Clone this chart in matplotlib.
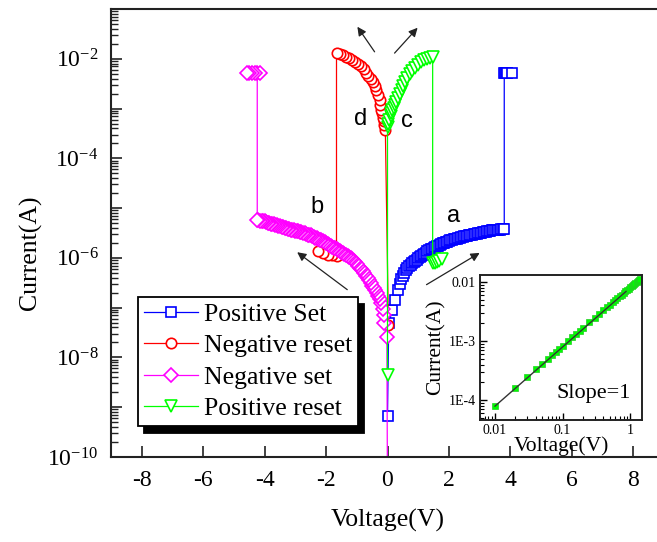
import numpy as np
import matplotlib
matplotlib.use("Agg")
import matplotlib.pyplot as plt
from matplotlib.ticker import LogLocator, FuncFormatter, FixedLocator, NullFormatter

plt.rcParams['font.family'] = 'Liberation Serif'
plt.rcParams['mathtext.fontset'] = 'custom'
plt.rcParams['mathtext.rm'] = 'Liberation Serif'
plt.rcParams['mathtext.it'] = 'Liberation Serif:italic'
plt.rcParams['axes.unicode_minus'] = False

# ---- data (V in volts, I in amps) ----
# a: positive set
set_pos_v = [0.0, 0.04, 0.16, 0.26, 0.33,
             0.40, 0.45, 0.50, 0.55, 0.60, 0.65, 0.70, 0.75, 0.80, 0.85, 0.90, 0.95,
             1.00, 1.05, 1.10, 1.15, 1.20, 1.25, 1.30, 1.35, 1.40, 1.45, 1.50, 1.55,
             1.60, 1.65, 1.70, 1.75, 1.80, 1.85, 1.90, 1.95, 2.00, 2.05, 2.10, 2.15,
             2.20, 2.25, 2.30, 2.35, 2.40, 2.45, 2.50, 2.55, 2.60, 2.65, 2.70, 2.75,
             2.80, 2.85, 2.90, 2.95, 3.00, 3.05, 3.10, 3.15, 3.20, 3.25, 3.30, 3.35,
             3.40, 3.45, 3.50, 3.55, 3.60, 3.65, 3.70, 3.75, 3.80,
             3.80, 3.82, 3.85, 3.88, 3.90, 4.05]
set_pos_i = [6.6e-10, 4.9e-8, 8.9e-8, 1.45e-7, 2.3e-7,
             3.0e-7, 3.7e-7, 4.4e-7, 5.0e-7, 5.6e-7, 6.2e-7, 6.8e-7, 7.3e-7, 7.8e-7,
             8.25e-7, 8.7e-7, 9.2e-7, 9.8e-7, 1.04e-6, 1.1e-6, 1.15e-6, 1.2e-6, 1.27e-6,
             1.35e-6, 1.42e-6, 1.48e-6, 1.53e-6, 1.58e-6, 1.64e-6, 1.7e-6, 1.76e-6,
             1.82e-6, 1.88e-6, 1.95e-6, 2.02e-6, 2.08e-6, 2.13e-6, 2.19e-6, 2.24e-6,
             2.29e-6, 2.35e-6, 2.4e-6, 2.45e-6, 2.5e-6, 2.55e-6, 2.6e-6, 2.65e-6,
             2.7e-6, 2.74e-6, 2.78e-6, 2.83e-6, 2.88e-6, 2.93e-6, 2.98e-6, 3.03e-6,
             3.08e-6, 3.12e-6, 3.16e-6, 3.2e-6, 3.24e-6, 3.3e-6, 3.35e-6, 3.41e-6,
             3.47e-6, 3.51e-6, 3.55e-6, 3.59e-6, 3.63e-6, 3.65e-6, 3.67e-6, 3.7e-6,
             3.72e-6, 3.72e-6, 3.72e-6,
             5.2e-3, 5.2e-3, 5.2e-3, 5.2e-3, 5.2e-3, 5.2e-3]

# d: negative reset
reset_neg_v = [0.03, -0.07, -0.10, -0.13, -0.16, -0.18, -0.20, -0.23, -0.26, -0.30, -0.36,
               -0.42, -0.48, -0.55, -0.62, -0.70, -0.78, -0.87, -0.95, -1.05, -1.15,
               -1.25, -1.35, -1.45, -1.55, -1.66,
               -1.66, -1.80, -1.95, -2.10, -2.25]
reset_neg_i = [4.5e-8, 3.7e-4, 4.6e-4, 5.5e-4, 6.5e-4, 8.0e-4, 9.3e-4, 1.2e-3, 1.5e-3,
               1.9e-3, 2.4e-3, 2.9e-3, 3.4e-3, 4.0e-3, 4.6e-3, 5.3e-3, 6.1e-3, 7.0e-3,
               7.8e-3, 8.6e-3, 9.4e-3, 1.03e-2, 1.1e-2, 1.17e-2, 1.24e-2, 1.32e-2,
               1.1e-6, 1.12e-6, 1.15e-6, 1.25e-6, 1.4e-6]

# b: negative set
set_neg_v = [0.0, -0.02, -0.12,
             -0.10, -0.15, -0.20, -0.25, -0.30, -0.35, -0.40, -0.45, -0.50, -0.55,
             -0.60, -0.65, -0.70, -0.75, -0.80, -0.85, -0.90, -0.95, -1.00, -1.05,
             -1.10, -1.15, -1.20, -1.25, -1.30, -1.35, -1.40, -1.45, -1.50, -1.55,
             -1.60, -1.65, -1.70, -1.75, -1.80, -1.85, -1.90, -1.95, -2.00, -2.05,
             -2.10, -2.15, -2.20, -2.25, -2.30, -2.35, -2.40, -2.45, -2.50, -2.55,
             -2.60, -2.65, -2.70, -2.75, -2.80, -2.85, -2.90, -2.95, -3.00, -3.05,
             -3.10, -3.15, -3.20, -3.25, -3.30, -3.35, -3.40, -3.45, -3.50, -3.55,
             -3.60, -3.65, -3.70, -3.75, -3.80, -3.85, -3.90, -3.95, -4.00, -4.05,
             -4.10, -4.15, -4.20, -4.24,
             -4.24, -4.15, -4.30, -4.40, -4.50, -4.57]
set_neg_i = [1e-11, 2.6e-8, 4.9e-8,
             7.1e-8, 9.5e-8, 1.26e-7, 1.5e-7, 1.74e-7, 2.0e-7, 2.24e-7, 2.45e-7, 2.7e-7,
             3.1e-7, 3.55e-7, 4.0e-7, 4.4e-7, 4.9e-7, 5.5e-7, 5.9e-7, 6.3e-7, 6.9e-7,
             7.6e-7, 8.1e-7, 8.7e-7, 9.3e-7, 1.0e-6, 1.05e-6, 1.1e-6, 1.15e-6, 1.2e-6,
             1.26e-6, 1.32e-6, 1.36e-6, 1.41e-6, 1.48e-6, 1.55e-6, 1.6e-6, 1.66e-6,
             1.74e-6, 1.82e-6, 1.9e-6, 2.0e-6, 2.07e-6, 2.14e-6, 2.24e-6, 2.34e-6,
             2.42e-6, 2.5e-6, 2.56e-6, 2.63e-6, 2.72e-6, 2.82e-6, 2.88e-6, 2.95e-6,
             3.02e-6, 3.1e-6, 3.17e-6, 3.24e-6, 3.32e-6, 3.4e-6, 3.44e-6, 3.47e-6,
             3.55e-6, 3.63e-6, 3.71e-6, 3.8e-6, 3.89e-6, 3.98e-6, 4.07e-6, 4.17e-6,
             4.27e-6, 4.37e-6, 4.47e-6, 4.57e-6, 4.68e-6, 4.8e-6, 4.85e-6, 4.9e-6,
             5.0e-6, 5.1e-6, 5.25e-6, 5.4e-6, 5.45e-6, 5.5e-6, 5.6e-6, 5.75e-6, 5.75e-6,
             5.1e-3, 5.1e-3, 5.1e-3, 5.1e-3, 5.1e-3, 5.1e-3]

# c: positive reset
reset_pos_v = [0.0, 0.0, 0.03, 0.06, 0.10, 0.13, 0.16, 0.20, 0.24, 0.29, 0.34, 0.40, 0.46,
               0.52, 0.58, 0.65, 0.72, 0.80, 0.88, 0.98, 1.08, 1.18, 1.28, 1.38, 1.47,
               1.47, 1.53, 1.60, 1.68, 1.76]
reset_pos_i = [4.5e-9, 4.3e-4, 5.0e-4, 5.8e-4, 7.1e-4, 8.1e-4, 9.3e-4, 1.05e-3, 1.18e-3,
               1.38e-3, 1.62e-3, 1.95e-3, 2.4e-3, 2.85e-3, 3.35e-3, 4.1e-3, 4.9e-3,
               5.75e-3, 6.6e-3, 7.6e-3, 8.5e-3, 9.3e-3, 1.0e-2, 1.06e-2, 1.1e-2,
               7.9e-7, 7.9e-7, 8.3e-7, 8.8e-7, 9.5e-7]

# inset: LRS ohmic region
lrs_v = [0.01, 0.02, 0.03, 0.04, 0.05, 0.06, 0.07, 0.08, 0.09, 0.1, 0.12, 0.14, 0.16,
         0.18, 0.2, 0.25, 0.3, 0.35, 0.4, 0.45, 0.5, 0.55, 0.6, 0.65, 0.7, 0.75, 0.8,
         0.85, 0.9, 0.95, 1.0, 1.05, 1.1, 1.15, 1.2, 1.25, 1.3, 1.35, 1.4]
lrs_i = [7.9e-5, 1.6e-4, 2.45e-4, 3.3e-4, 4.1e-4, 5.0e-4, 5.8e-4, 6.6e-4, 7.4e-4, 8.3e-4,
         1.0e-3, 1.17e-3, 1.33e-3, 1.5e-3, 1.66e-3, 2.07e-3, 2.48e-3, 2.9e-3, 3.3e-3,
         3.7e-3, 4.1e-3, 4.5e-3, 4.9e-3, 5.3e-3, 5.7e-3, 6.1e-3, 6.5e-3, 6.9e-3, 7.3e-3,
         7.7e-3, 8.1e-3, 8.5e-3, 8.9e-3, 9.3e-3, 9.7e-3, 1.01e-2, 1.05e-2, 1.09e-2,
         1.13e-2]
fit_v = [0.01, 0.87]
fit_i = [7.9e-5, 6.9e-3]

fig = plt.figure(figsize=(6.57, 5.42), dpi=100)
ax = fig.add_axes([111/657, 1-457/542, 553/657, 448/542])

mk = dict(mfc='white', mew=1.2, lw=0.9)
ax.plot(set_pos_v, set_pos_i, color='#0000ff', marker='s', ms=7.2, label='Positive Set', **mk)
ax.plot(reset_neg_v, reset_neg_i, color='#ff0000', marker='o', ms=7.5, label='Negative reset', **mk)
ax.plot(set_neg_v, set_neg_i, color='#ff00ff', marker='D', ms=6.8, label='Negative set', **mk)
ax.plot(reset_pos_v, reset_pos_i, color='#00ff00', marker='v', ms=8.5, label='Positive reset', **mk)

ax.set_yscale('log')
ax.set_xlim(-9, 9)
ax.set_ylim(1e-10, 1e-1)
ax.set_xticks([-8, -6, -4, -2, 0, 2, 4, 6, 8])
ax.yaxis.set_major_locator(LogLocator(base=10, numticks=20))
ax.yaxis.set_minor_locator(LogLocator(base=10, subs=np.arange(2, 10), numticks=20))


def ylab(v, pos):
    e = int(round(np.log10(v)))
    return r'$\mathdefault{10^{%d}}$' % e if e % 2 == 0 else ''


ax.yaxis.set_major_formatter(FuncFormatter(ylab))
ax.yaxis.set_minor_formatter(NullFormatter())
ax.tick_params(axis='both', which='major', direction='in', length=8, width=1.2,
               labelsize=17, pad=9, colors='#222222', labelcolor='black')
ax.tick_params(axis='y', which='minor', direction='in', length=5, width=1.0, colors='#222222')
for s in ax.spines.values():
    s.set_linewidth(1.5)
    s.set_color('#222222')

ax.set_xlabel('Voltage(V)', fontsize=18.5)
ax.set_ylabel('Current(A)', fontsize=18.5)
ax.xaxis.set_label_coords(0.501, -0.115)
ax.yaxis.set_label_coords(-0.125, 0.455)

leg = ax.legend(loc='upper left', bbox_to_anchor=(0.0488, 0.357), borderaxespad=0,
                fontsize=18.5, numpoints=1, handlelength=2.1, handletextpad=0.25,
                borderpad=0.22, labelspacing=0.33, fancybox=False, framealpha=1,
                edgecolor='black', shadow={'ox': 4.5, 'oy': -5, 'color': 'k', 'alpha': 1})
leg.get_frame().set_linewidth(1.3)

arrow = dict(arrowstyle='-|>', color='#222222', lw=0.9, mutation_scale=13, shrinkA=0, shrinkB=0)
ax.annotate('', xy=(-2.94, 1.3e-6), xytext=(-1.31, 2.3e-7), arrowprops=arrow)
ax.annotate('', xy=(3.0, 1.26e-6), xytext=(1.27, 2.9e-7), arrowprops=arrow)
ax.annotate('', xy=(-0.98, 4.4e-2), xytext=(-0.42, 1.38e-2), arrowprops=arrow)
ax.annotate('', xy=(0.98, 4.2e-2), xytext=(0.23, 1.3e-2), arrowprops=arrow)

lab = dict(fontsize=17, family='Liberation Sans', ha='center', va='baseline')
ax.text(-2.28, 7.9e-6, 'b', **lab)
ax.text(2.15, 5.2e-6, 'a', **lab)
ax.text(-0.88, 4.7e-4, 'd', **lab)
ax.text(0.62, 4.3e-4, 'c', **lab)

# inset
ins = fig.add_axes([480/657, 1-420/542, 162/657, 145/542])
ins.plot(lrs_v, lrs_i, 's', color='#00ff00', ms=4.2, mew=0.5, mec='#22cc22')
ins.plot(fit_v, fit_i, '-', color='#333333', lw=1.0)
ins.set_xscale('log')
ins.set_yscale('log')
ins.set_xlim(0.006, 1.5)
ins.set_ylim(4.6e-5, 1.31e-2)
ins.xaxis.set_major_locator(FixedLocator([0.01, 0.1, 1]))
ins.xaxis.set_major_formatter(FuncFormatter(lambda v, p: {0.01: '0.01', 0.1: '0.1', 1: '1'}.get(round(v, 3), '')))
ins.yaxis.set_major_locator(FixedLocator([1e-4, 1e-3, 1e-2]))
ins.yaxis.set_major_formatter(FuncFormatter(lambda v, p: {-4: '1E-4', -3: '1E-3', -2: '0.01'}[int(round(np.log10(v)))]))
ins.xaxis.set_minor_formatter(NullFormatter())
ins.yaxis.set_minor_formatter(NullFormatter())
ins.tick_params(which='major', direction='in', length=5, width=1.0, labelsize=10, pad=3)
ins.tick_params(which='minor', direction='in', length=3, width=0.8)
for s in ins.spines.values():
    s.set_linewidth(1.4)
    s.set_color('#222222')
ins.set_xlabel('Voltage(V)', fontsize=15.5, labelpad=-1)
ins.set_ylabel('Current(A)', fontsize=15.5, labelpad=2)
ins.text(0.70, 0.152, 'Slope=1', transform=ins.transAxes, fontsize=16,
         ha='center', va='baseline')

fig.savefig('out.png', dpi=100)
